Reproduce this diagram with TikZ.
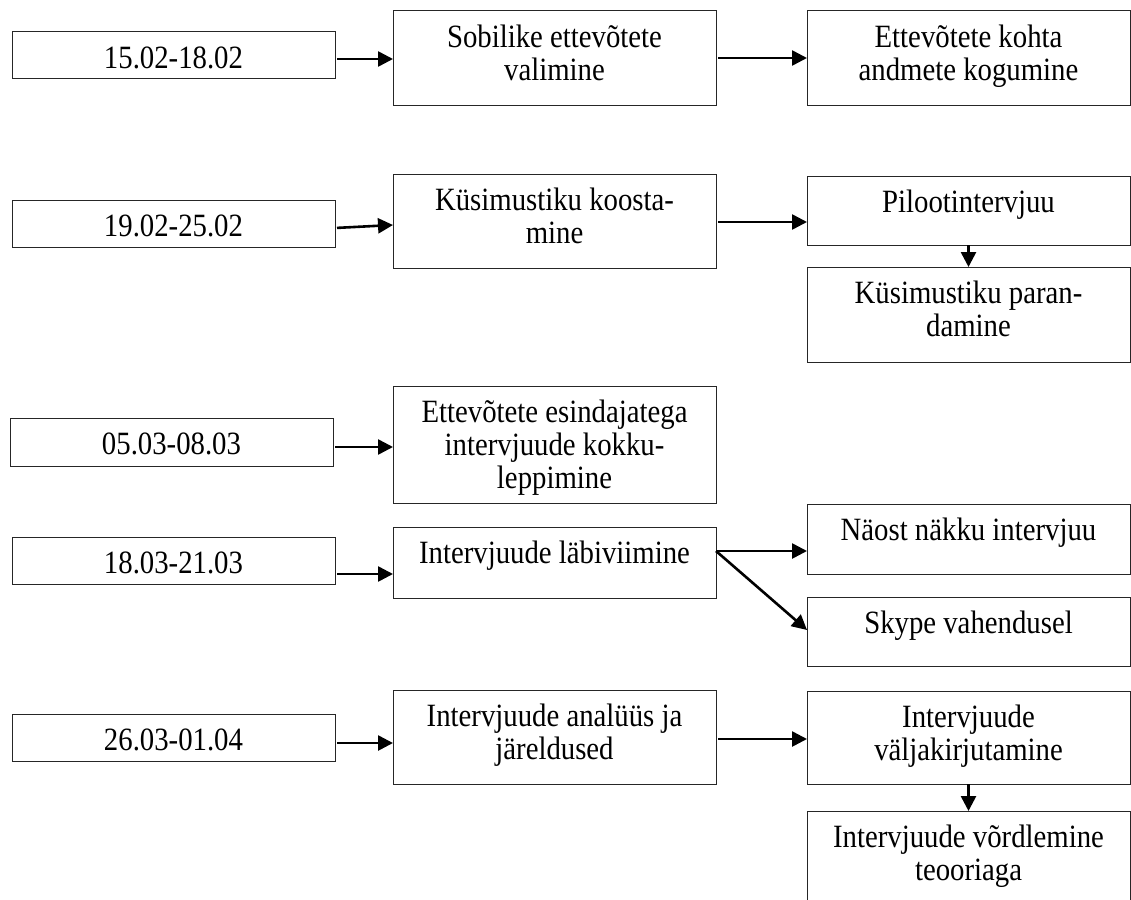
\documentclass[tikz,border=0pt]{standalone}
\usepackage{fontspec}
\setmainfont{Liberation Serif}[FakeStretch=0.885]
\usetikzlibrary{arrows.meta,calc}
\tikzset{
  box/.style={draw=black!85, line width=1pt, inner sep=0pt, outer sep=0pt, minimum width=323pt},
  lbl/.style={anchor=north, align=center, inner sep=0pt, font=\fontsize{32.5}{33}\selectfont},
  arr/.style={line width=2.6pt, -{Triangle[length=15pt,width=15pt]}, shorten <=2pt}
}
\newcommand\boxtext[2]{\node[lbl] at ([yshift=-12.9pt]#1.north) {\strut #2};}
\begin{document}
\begin{tikzpicture}[x=1pt,y=-1pt]
\fill[white] (0,0) rectangle (1131,899);
\useasboundingbox (0,0) rectangle (1131,899);
\clip (0,0) rectangle (1131,899);
% date boxes
\node[box, minimum height=46pt] (d1) at (173.5,55) {};
\node[box, minimum height=47pt] (d2) at (173.5,223.5) {};
\node[box, minimum height=48pt] (d3) at (171.5,442) {};
\node[box, minimum height=47pt] (d4) at (173.5,560.5) {};
\node[box, minimum height=47pt] (d5) at (173.5,737.5) {};
% middle boxes
\node[box, minimum height=94pt] (b1a) at (554.5,58) {};
\node[box, minimum height=94pt] (b2a) at (554.5,221) {};
\node[box, minimum height=117pt] (b3a) at (554.5,444.5) {};
\node[box, minimum height=71pt] (b4a) at (554.5,562.5) {};
\node[box, minimum height=94pt] (b5a) at (554.5,737) {};
% right boxes
\node[box, minimum height=94pt] (b1b) at (968.5,58) {};
\node[box, minimum height=69pt] (b2b) at (968.5,210.5) {};
\node[box, minimum height=95pt] (b2c) at (968.5,314.5) {};
\node[box, minimum height=70pt] (b4b) at (968.5,539) {};
\node[box, minimum height=69pt] (b4c) at (968.5,631.5) {};
\node[box, minimum height=93pt] (b5b) at (968.5,737.5) {};
\node[box, minimum height=109pt] (b5c) at (968.5,865.5) {};
% texts
\boxtext{d1}{15.02-18.02}
\boxtext{d2}{19.02-25.02}
\boxtext{d3}{05.03-08.03}
\boxtext{d4}{18.03-21.03}
\boxtext{d5}{26.03-01.04}
\boxtext{b1a}{Sobilike ettevõtete\\valimine}
\boxtext{b1b}{Ettevõtete kohta\\andmete kogumine}
\boxtext{b2a}{Küsimustiku koosta-\\mine}
\boxtext{b2b}{Pilootintervjuu}
\boxtext{b2c}{Küsimustiku paran-\\damine}
\boxtext{b3a}{Ettevõtete esindajatega\\intervjuude kokku-\\leppimine}
\boxtext{b4a}{Intervjuude läbiviimine}
\boxtext{b4b}{Näost näkku intervjuu}
\boxtext{b4c}{Skype vahendusel}
\boxtext{b5a}{Intervjuude analüüs ja\\järeldused}
\boxtext{b5b}{Intervjuude\\väljakirjutamine}
\boxtext{b5c}{Intervjuude võrdlemine\\teooriaga}
% arrows
\draw[arr] (d1.east |- 0,59) -- (b1a.west |- 0,59);
\draw[arr] (b1a.east |- 0,58) -- (b1b.west |- 0,58);
\draw[arr] (d2.east |- 0,228) -- (b2a.west |- 0,225);
\draw[arr] (b2a.east |- 0,222) -- (b2b.west |- 0,222);
\draw[arr, shorten <=0pt] (b2b.south) -- (b2c.north);
\draw[arr] (d3.east |- 0,447) -- (b3a.west |- 0,447);
\draw[arr] (d4.east |- 0,574) -- (b4a.west |- 0,574);
\draw[arr, shorten <=0pt] (b4a.east |- 0,551) -- (b4b.west |- 0,551);
\draw[arr, shorten <=0pt] (b4a.east |- 0,551) -- (b4c.west |- 0,630);
\draw[arr] (d5.east |- 0,743) -- (b5a.west |- 0,743);
\draw[arr] (b5a.east |- 0,739) -- (b5b.west |- 0,739);
\draw[arr, shorten <=0pt] (b5b.south) -- (b5c.north);
\end{tikzpicture}
\end{document}
